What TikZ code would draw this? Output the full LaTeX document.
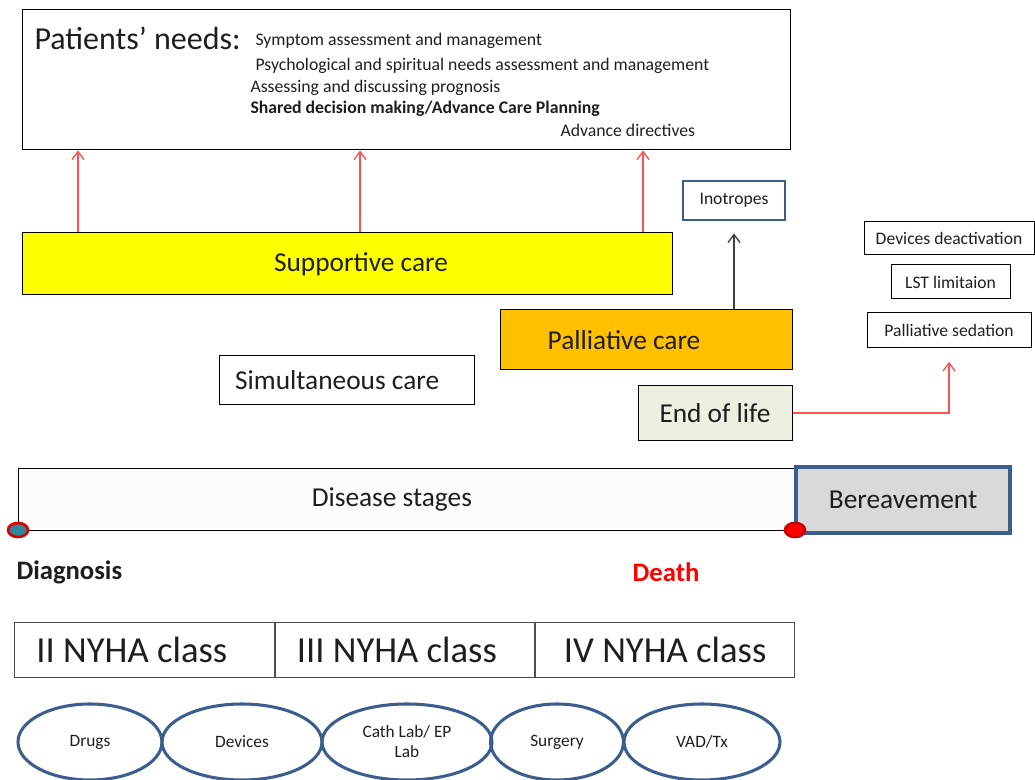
\documentclass[tikz,border=0pt]{standalone}
\usepackage{fontspec}
\setmainfont{Carlito}
\usetikzlibrary{positioning,arrows.meta,shapes.geometric}

\definecolor{suppyellow}{HTML}{FFFF00}
\definecolor{pallorange}{HTML}{FFC000}
\definecolor{eolgreen}{HTML}{EBF0E1}
\definecolor{stagewhite}{HTML}{FCFCFA}
\definecolor{bergray}{HTML}{D9D9D9}
\definecolor{borderblue}{HTML}{3B5E8E}
\definecolor{dotteal}{HTML}{31859C}
\definecolor{arrowred}{HTML}{FF5050}
\definecolor{txtgray}{HTML}{1E1E1E}

\tikzset{every picture/.style={line width=0.75pt}}

\begin{document}
\begin{tikzpicture}[x=0.75pt,y=0.75pt,yscale=-1,xscale=1,
  box/.style={draw, inner sep=0pt, align=center, text=txtgray},
  bigtxt/.style={font=\fontsize{24}{28}\selectfont},
  midtxt/.style={font=\fontsize{20.5}{24}\selectfont},
  classtxt/.style={font=\fontsize{27.5}{32}\selectfont},
  listtxt/.style={font=\fontsize{13.3}{16}\selectfont, text=txtgray, inner sep=0pt},
  smalltxt/.style={font=\fontsize{13.2}{15}\selectfont},
  oval/.style={ellipse, draw=borderblue, line width=2.3pt, inner sep=0pt,
    minimum height=57pt, font=\fontsize{13}{15}\selectfont, align=center, text=txtgray},
  redarrow/.style={draw=arrowred, line width=1pt, -{Straight Barb[length=6pt,width=9pt]}},
  dot/.style={ellipse, line width=2pt, inner sep=0pt, minimum width=15pt, minimum height=10.5pt}]

\useasboundingbox (0,0) rectangle (1035,780);

% patients' needs
\node (needs) [box, minimum width=576pt, minimum height=105pt] at (406,80) {};
\draw (34,38) node (needstitle) [anchor=west, bigtxt, text=txtgray, inner sep=0pt] {Patients’ needs:};
\draw (255,41) node (need1) [anchor=west, listtxt] {Symptom assessment and management};
\draw (255,66) node (need2) [anchor=west, listtxt] {Psychological and spiritual needs assessment and management};
\draw (250,88) node (need3) [anchor=west, listtxt] {Assessing and discussing prognosis};
\draw (250,109) node (need4) [anchor=west, listtxt] {\bfseries Shared decision making/Advance Care Planning};
\draw (560,130) node (need5) [anchor=west, listtxt] {Advance directives};

% care levels
\node (supp) [box, fill=suppyellow, minimum width=487.5pt, minimum height=46.5pt, midtxt] at (347,264) {\hspace*{21pt}Supportive care};
\node (ino) [box, draw=borderblue, line width=2.2pt, minimum width=76.5pt, minimum height=29.25pt, smalltxt] at (734,200.5) {Inotropes};
\node (pall) [box, fill=pallorange, minimum width=219pt, minimum height=45pt, midtxt] at (646,340) {Palliative care\hspace*{33pt}};
\node (simul) [box, minimum width=191.25pt, minimum height=36.75pt, midtxt] at (346.5,380.5) {Simultaneous care\hspace*{14pt}};
\node (eol) [box, fill=eolgreen, minimum width=115.5pt, minimum height=40.5pt, midtxt] at (715,413) {End of life};

\node (devd) [box, minimum width=127.5pt, minimum height=24.75pt, smalltxt] at (949,238.5) {Devices deactivation};
\node (lst) [box, minimum width=89.25pt, minimum height=25.5pt, smalltxt] at (950.5,282) {LST limitaion};
\node (psed) [box, minimum width=123pt, minimum height=26.25pt, smalltxt] at (949,330.5) {Palliative sedation};

\draw [redarrow] (supp.north -| 78,0) -- (needs.south -| 78,0);
\draw [redarrow] (supp.north -| 360,0) -- (needs.south -| 360,0);
\draw [redarrow] (supp.north -| 643,0) -- (needs.south -| 643,0);
\draw [-{Straight Barb[length=6pt,width=9pt]}, draw=black!75, line width=1pt, shorten >=9pt] (pall.north -| ino.south) -- (ino.south);
\draw [redarrow, shorten >=10pt] (eol.east) -| (psed.south);

% disease timeline
\node (stages) [box, fill=stagewhite, minimum width=582.75pt, minimum height=46.5pt, midtxt] at (406.5,499) {Disease stages\hspace*{22pt}};
\node (bereav) [box, fill=bergray, draw=borderblue, line width=2.3pt, minimum width=160.5pt, minimum height=49.5pt, midtxt] at (903,500) {Bereavement};
\node (diagdot) [dot, draw=red!85!black, fill=dotteal] at (18,530) {};
\node (deathdot) [dot, draw=red!80!black, fill=red] at (795,530) {};
\draw (16,572) node (diag) [anchor=west, inner sep=0pt, font=\fontsize{20}{24}\selectfont\bfseries, text=txtgray] {Diagnosis};
\draw (666,572) node (death) [inner sep=0pt, font=\fontsize{20}{24}\selectfont\bfseries, text=red] {Death};

% NYHA classes
\node (cls2) [box, draw=black!70, minimum width=194.5pt, minimum height=41.25pt, classtxt] at (144.5,649.5) {II NYHA class\hspace*{19pt}};
\node (cls3) [box, draw=black!70, minimum width=194.5pt, minimum height=41.25pt, classtxt, right=0pt of cls2] {III NYHA class\hspace*{12pt}};
\node (cls4) [box, draw=black!70, minimum width=194.5pt, minimum height=41.25pt, classtxt, right=0pt of cls3] {IV NYHA class};

% treatments
\node (drugs) [oval, minimum width=108pt] at (90,742) {Drugs};
\node (devs) [oval, minimum width=120pt] at (242,742) {Devices};
\node (cath) [oval, minimum width=127.5pt] at (407,742) {Cath Lab/ EP\\Lab};
\node (surg) [oval, minimum width=99.75pt] at (557,742) {Surgery};
\node (vad) [oval, minimum width=117pt] at (702,742) {VAD/Tx};

\end{tikzpicture}
\end{document}
